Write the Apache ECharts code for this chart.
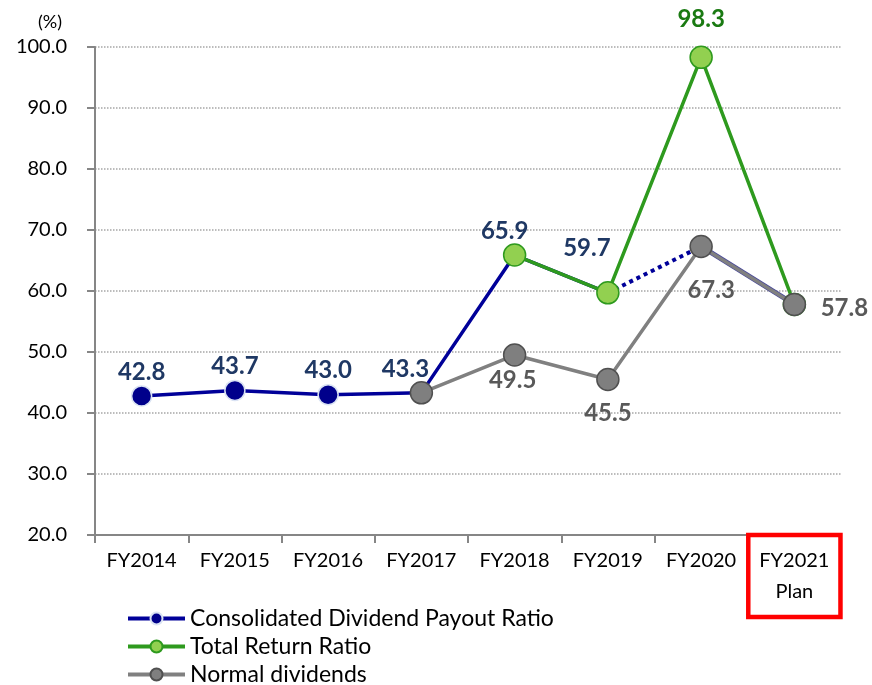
<!DOCTYPE html>
<html>
<head>
<meta charset="utf-8">
<script src="https://cdn.jsdelivr.net/npm/echarts@6/dist/echarts.min.js"></script>
<style>html,body{margin:0;padding:0;background:#fff}#c{width:872px;height:685px}</style>
</head>
<body>
<div id="c"></div>
<script>
const categories = ['FY2014','FY2015','FY2016','FY2017','FY2018','FY2019','FY2020','FY2021\nPlan'];
const yTicks = [20,30,40,50,60,70,80,90,100];
const payoutRatio = [42.8, 43.7, 43.0, 43.3, 65.9, 59.7, 67.3, 57.8];
const totalReturnRatio = [null, null, null, null, 65.9, 59.7, 98.3, 57.8];
const normalDividends = [null, null, null, 43.3, 49.5, 45.5, 67.3, 57.8];
const seriesNames = ['Consolidated Dividend Payout Ratio','Total Return Ratio','Normal dividends'];

const FONT = 'Lato, "DejaVu Sans", sans-serif';
const BLUE = '#000099', GREEN = '#2E9A1E', GRAY = '#808080';

function lbl(color, dx, dy){
  return {show:true, position:'inside', offset:[dx,dy], color:color, fontFamily:FONT,
    fontWeight:'bold', fontSize:24, formatter:(p)=>p.value.toFixed(1)};
}
// label offsets per point (styling only)
const blueOffsets = [[0,-24],[0,-24],[0,-24],[-16,-24],[-10,-24],[-21,-45]];
const grayOffsets = {4:[-2,25],5:[0,34],6:[10,44],7:[50,4]};

const bluePart = payoutRatio.map((v,i)=> i<=5 ? {value:v, label: lbl('#1F3864', blueOffsets[i][0], blueOffsets[i][1])} : '-');
const blueDotted = payoutRatio.map((v,i)=> (i===5||i===6) ? v : '-');
const blueTail = payoutRatio.map((v,i)=> (i>=6) ? v : '-');
const greenData = totalReturnRatio.map((v,i)=> v==null ? '-' : (i===6 ? {value:v, label:lbl('#1A7A12',0,-38)} : v));
const grayData = normalDividends.map((v,i)=> v==null ? '-' : (grayOffsets[i] ? {value:v, label:lbl('#595959',grayOffsets[i][0],grayOffsets[i][1])} : v));

const chart = echarts.init(document.getElementById('c'));
chart.setOption({
  animation:false,
  backgroundColor:'#fff',
  title:{text:'(%)', left:33, top:8, textStyle:{fontFamily:FONT, fontSize:18, fontWeight:'normal', color:'#000'}},
  grid:{left:95, right:31, top:47, bottom:150},
  legend:{
    data: seriesNames, orient:'vertical', left:121, top:602, height:100, itemWidth:57, itemHeight:15, itemGap:5,
    lineStyle:{width:4},
    textStyle:{fontFamily:FONT, fontSize:23, lineHeight:23, color:'#000'}
  },
  xAxis:{
    type:'category', boundaryGap:true,
    data: categories.map((c,i)=> i===categories.length-1 ? {value:c, textStyle:{borderColor:'#FF0000', borderWidth:4.5}} : c),
    axisLine:{lineStyle:{color:'#868686', width:2}},
    axisTick:{show:true, length:8, lineStyle:{color:'#868686', width:2}},
    axisLabel:{fontFamily:FONT, fontSize:20, color:'#000', margin:0, lineHeight:31, padding:[10,11,10,11], interval:0, borderColor:'transparent', borderWidth:4.5}
  },
  yAxis:{
    type:'value', min:yTicks[0], max:yTicks[yTicks.length-1], interval:10,
    axisLine:{show:true, lineStyle:{color:'#868686', width:2}},
    axisTick:{show:true, length:8, lineStyle:{color:'#868686', width:2}},
    axisLabel:{fontFamily:FONT, fontSize:20, color:'#000', margin:28, formatter:(v)=>v.toFixed(1)},
    splitLine:{show:true, lineStyle:{color:'#A6A6A6', type:'dotted', width:1.5}}
  },
  series:[
    {name:seriesNames[0], type:'line', data:bluePart, symbol:'circle', symbolSize:20,
     lineStyle:{color:BLUE, width:3.5}, itemStyle:{color:'#00008B', borderColor:'#DAE3F3', borderWidth:1.5}, z:2},
    {name:'_payoutDotted', type:'line', data:blueDotted, symbol:'none',
     lineStyle:{color:BLUE, width:4, type:'dotted'}, z:2},
    {name:'_payoutTail', type:'line', data:blueTail, symbol:'none',
     lineStyle:{color:'#4A4A9A', width:5}, z:2},
    {name:seriesNames[1], type:'line', data:greenData, symbol:'circle', symbolSize:22,
     lineStyle:{color:GREEN, width:3.5}, itemStyle:{color:'#92D050', borderColor:'#2E9A1E', borderWidth:1.5}, z:3},
    {name:seriesNames[2], type:'line', data:grayData, symbol:'circle', symbolSize:22,
     lineStyle:{color:GRAY, width:3.5}, itemStyle:{color:'#7F7F7F', borderColor:'#505050', borderWidth:1.5}, z:4}
  ]
});
</script>
</body>
</html>
